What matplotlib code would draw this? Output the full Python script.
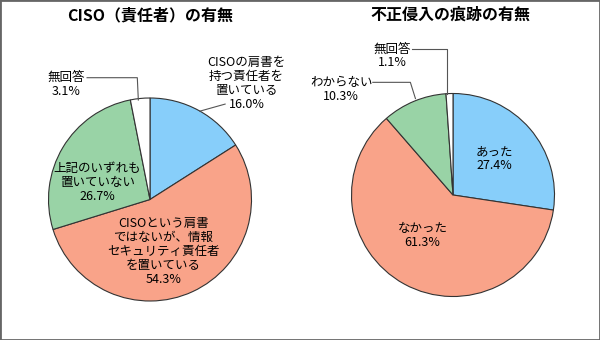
import matplotlib
matplotlib.use('Agg')
import matplotlib.pyplot as plt
from matplotlib.patches import Rectangle

plt.rcParams['font.family'] = ['Noto Sans CJK JP', 'DejaVu Sans']

# Left chart: CISO
ciso_labels = ['CISOの肩書を\n持つ責任者を\n置いている', 'CISOという肩書\nではないが、情報\nセキュリティ責任者\nを置いている',
               '上記のいずれも\n置いていない', '無回答']
ciso_values = [16.0, 54.3, 26.7, 3.1]

# Right chart: intrusion traces
trace_labels = ['あった', 'なかった', 'わからない', '無回答']
trace_values = [27.4, 61.3, 10.3, 1.1]

colors = ['#87CEFA', '#F9A389', '#99D3A6', '#FFFFFF']

fig = plt.figure(figsize=(6, 3.4), dpi=100)
fig.patches.append(Rectangle((0, 0), 1, 1, transform=fig.transFigure, fill=False,
                             edgecolor='#666666', linewidth=2))

W, H = 600, 340
r = 101.5


def pie_axes(cx, cy):
    ax = fig.add_axes([(cx - r) / W, (H - cy - r) / H, 2 * r / W, 2 * r / H])
    return ax


def draw_pie(ax, values):
    ax.pie(values, colors=colors, startangle=90, counterclock=False,
           wedgeprops=dict(edgecolor='#333333', linewidth=0.8))
    ax.set_xlim(-1, 1)
    ax.set_ylim(-1, 1)
    ax.set_aspect('equal')
    ax.axis('off')


fs = 9
ls = 1.1
lc = '#555555'


def label(ax, x, y, name, val):
    ax.text(x, y, name + '\n%.1f%%' % val, ha='center', va='center',
            fontsize=fs, linespacing=ls)


# ---- left pie
ax1 = pie_axes(150, 199.5)
draw_pie(ax1, ciso_values)
label(ax1, 0.95, 1.14, ciso_labels[0], ciso_values[0])
ax1.plot([0.49, 0.74], [0.87, 0.94], color=lc, lw=0.8, clip_on=False)
label(ax1, 0.13, -0.51, ciso_labels[1], ciso_values[1])
label(ax1, -0.52, 0.17, ciso_labels[2], ciso_values[2])
label(ax1, -0.83, 1.13, ciso_labels[3], ciso_values[3])
ax1.plot([-0.62, -0.125, -0.115], [1.20, 1.20, 0.98], color=lc, lw=0.8, clip_on=False)
fig.text(150 / W, 1 - 15 / H, 'CISO（責任者）の有無', ha='center', va='center',
         fontsize=11.5, fontweight='bold')

# ---- right pie
ax2 = pie_axes(453, 195)
draw_pie(ax2, trace_values)
label(ax2, 0.41, 0.36, trace_labels[0], trace_values[0])
label(ax2, -0.30, -0.40, trace_labels[1], trace_values[1])
label(ax2, -1.10, 1.04, trace_labels[2], trace_values[2])
ax2.plot([-0.79, -0.42, -0.37], [1.11, 1.11, 0.95], color=lc, lw=0.8, clip_on=False)
label(ax2, -0.60, 1.37, trace_labels[3], trace_values[3])
ax2.plot([-0.40, -0.06, -0.06], [1.44, 1.44, 1.0], color=lc, lw=0.8, clip_on=False)
fig.text(450 / W, 1 - 15 / H, '不正侵入の痕跡の有無', ha='center', va='center',
         fontsize=11.5, fontweight='bold')

fig.savefig('out.png', dpi=100)
plt.close(fig)
